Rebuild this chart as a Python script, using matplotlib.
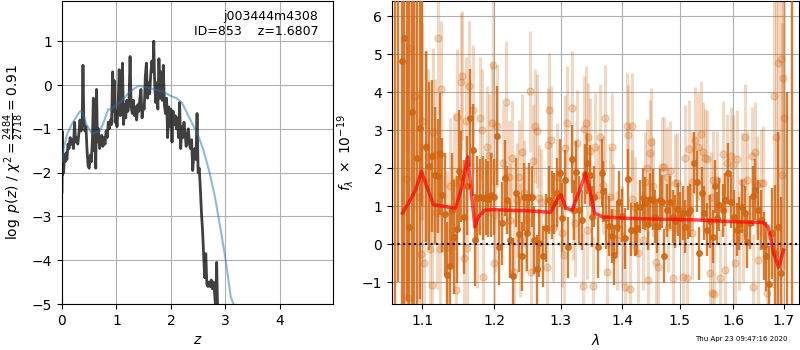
import numpy as np
import matplotlib
matplotlib.use("Agg")
import matplotlib.pyplot as plt
from matplotlib.ticker import NullLocator, FixedLocator, FixedFormatter

# ---- p(z) panel ----
z_grid = [0.000, 0.005, 0.012, 0.02, 0.03, 0.045, 0.06, 0.075, 0.09, 0.11, 0.13, 0.15, 0.17, 0.19,
          0.21, 0.23, 0.25, 0.27, 0.29, 0.31, 0.33, 0.35, 0.37, 0.385, 0.40, 0.42, 0.44, 0.46, 0.48,
          0.50, 0.52, 0.54, 0.56, 0.575, 0.59, 0.605, 0.62, 0.635, 0.65, 0.67, 0.69, 0.71, 0.73,
          0.75, 0.77, 0.79, 0.81, 0.83, 0.85, 0.87, 0.89, 0.91, 0.93, 0.945, 0.96, 0.975, 0.99,
          1.01, 1.03, 1.05, 1.07, 1.09, 1.11, 1.13, 1.15, 1.17, 1.19, 1.21, 1.23, 1.25, 1.27, 1.29,
          1.31, 1.33, 1.35, 1.37, 1.39, 1.41, 1.43, 1.45, 1.47, 1.49, 1.51, 1.53, 1.55, 1.57, 1.59,
          1.61, 1.63, 1.65, 1.67, 1.685, 1.70, 1.72, 1.74, 1.76, 1.78, 1.80, 1.82, 1.84, 1.86, 1.88,
          1.90, 1.92, 1.94, 1.96, 1.98, 2.00, 2.02, 2.04, 2.06, 2.08, 2.10, 2.12, 2.14, 2.16, 2.18,
          2.20, 2.22, 2.24, 2.26, 2.28, 2.30, 2.32, 2.34, 2.36, 2.38, 2.40, 2.42, 2.44, 2.46, 2.48,
          2.50, 2.52, 2.54, 2.56, 2.58, 2.60, 2.62, 2.64, 2.66, 2.68, 2.70, 2.72, 2.74, 2.76, 2.78,
          2.80, 2.82, 2.84, 2.86]
logpz = [-2.45, -1.05, -2.05, -1.75, -2.0, -1.6, -1.75, -1.55, -1.7, -1.35, -1.45, -1.2, -1.35, -1.25,
         -1.45, -0.85, -1.3, -1.2, -1.35, -1.1, -0.8, -1.05, -0.9, 0.45, -0.75, -1.05, -0.95, -1.5, -1.85,
         -1.9, -1.6, -1.75, -1.2, -0.3, -1.5, -1.0, -1.9, -0.1, -1.3, -1.0, -1.45, -1.3, -1.15,
         -1.4, -1.2, -1.35, -1.05, -1.2, -0.85, -1.0, -0.8, -0.9, 0.3, -0.6, 0.1, -0.85, -0.6,
         -0.95, -0.5, 0.35, -0.7, -0.55, 0.5, -0.9, -0.45, -0.75, -0.35, -0.6, -0.4, 0.65, -0.5, -0.65,
         -0.35, -0.7, -0.5, -0.8, -0.45, -0.6, -0.3, -0.1, -0.75, -0.5, -0.55, 0.2, 0.5, -0.3, 0.05,
         -0.2, 0.25, 0.55, 0.3, 1.0, 0.1, -0.4, 0.05, -0.55, 0.6, -0.3, 0.3, -0.35, 0.45, -0.45,
         -0.65, -0.3, -1.2, -0.5, -0.95, -0.55, -1.3, -0.6, -0.9, -0.7, -1.0, -0.75, -1.2, -0.4, -1.45,
         -0.95, -1.2, -0.85, -1.1, -1.4, -1.2, -1.0, -1.35, -1.45, -1.25, -1.95, -1.6, -1.45, -1.7, -0.65,
         -2.0, -1.9, -2.35, -2.9, -3.3, -3.85, -4.4, -3.85, -4.55, -4.6, -4.5, -4.6, -4.45, -4.65, -4.5,
         -4.7, -5.1, -4.05, -5.3]

z_prior = [0.0, 0.04, 0.1, 0.2, 0.33, 0.37, 0.45, 0.55, 0.62, 0.70, 0.78, 0.85, 0.90, 0.95, 1.1,
           1.25, 1.40, 1.55, 1.70, 1.85, 2.0, 2.1, 2.2, 2.3, 2.4, 2.5, 2.6, 2.7, 2.8, 2.9, 3.0,
           3.05, 3.1, 3.15]
logp_prior = [-1.75, -1.4, -1.1, -0.85, -0.6, -0.6, -0.9, -1.12, -1.08, -1.05, -0.8, -0.55, -0.56,
              -0.5, -0.35, -0.15, -0.02, -0.05, -0.1, -0.15, -0.25, -0.3, -0.4, -0.65, -0.9, -1.15,
              -1.5, -1.95, -2.5, -3.2, -3.95, -4.4, -4.85, -5.0]

# ---- spectrum panel ----
wave_a = [1.0644, 1.0683, 1.0730, 1.0763, 1.0798, 1.0828, 1.0867, 1.0896, 1.0933, 1.0969, 1.1002,
          1.1045, 1.1085, 1.1133, 1.1170, 1.1206, 1.1237, 1.1268, 1.1302, 1.1336, 1.1373, 1.1401,
          1.1428, 1.1465, 1.1501, 1.1525, 1.1571, 1.1609, 1.1651, 1.1689, 1.1722, 1.1754, 1.1792,
          1.1839, 1.1878, 1.1911, 1.1949, 1.1993, 1.2040, 1.2069, 1.2113, 1.2153, 1.2186, 1.2226,
          1.2275, 1.2315, 1.2364, 1.2400, 1.2434, 1.2475, 1.2514, 1.2554, 1.2589, 1.2626, 1.2665,
          1.2727, 1.2768, 1.2819, 1.2856, 1.2892, 1.2934, 1.2985, 1.3025, 1.3064, 1.3116, 1.3170,
          1.3207, 1.3238, 1.3291, 1.3329, 1.3383, 1.3420, 1.3463, 1.3491, 1.3533, 1.3598, 1.3654,
          1.3681, 1.3726, 1.3780, 1.3820, 1.3864, 1.3904, 1.3947, 1.3988, 1.4044, 1.4099, 1.4145,
          1.4213, 1.4253, 1.4299, 1.4346, 1.4386, 1.4433, 1.4473, 1.4520, 1.4561, 1.4601, 1.4648,
          1.4693, 1.4725, 1.4767, 1.4826, 1.4874, 1.4916, 1.4964, 1.5005, 1.5054, 1.5096, 1.5145,
          1.5187, 1.5261, 1.5310, 1.5358, 1.5403, 1.5446, 1.5496, 1.5558, 1.5609, 1.5652, 1.5699,
          1.5737, 1.5798, 1.5842, 1.5905, 1.5950, 1.6014, 1.6066, 1.6116, 1.6163, 1.6228, 1.6273,
          1.6326, 1.6379, 1.6425, 1.6490, 1.6538, 1.6604, 1.6644, 1.6710, 1.6758, 1.6825, 1.6892,
          1.6948, 1.7065, 1.7168]
flux_a = [-3.0, 9.0, 4.82, 5.42, 8.5, 0.45, 3.47, -2.5, 2.26, 3.05, 7.0,
          2.57, 2.06, 2.32, 1.82, 1.8, 2.38, 1.3, 0.8, -0.82, -0.56, 0.9,
          0.2, 0.39, 1.94, 1.78, 0.72, 1.54, 3.32, 2.48, 0.11, 1.21, 1.25,
          1.21, 1.25, 1.18, 1.3, 1.25, 2.85, -0.06, 0.55, 1.74, 1.17, 0.11,
          -0.83, 1.36, 0.26, -0.32, 1.25, 0.31, 1.25, 1.25, 0.11, -0.66, 0.03,
          -0.32, 0.43, 1.17, 1.04, 1.08, 1.36, 1.87, 0.7, 1.69, -0.08, 2.24,
          0.9, 1.91, 0.89, 0.64, 1.85, 2.13, 1.82, 0.73, 1.25, -0.08, 1.87,
          1.39, 0.68, 0.48, 0.22, -0.28, 0.45, 1.12, 0.75, 0.16, 1.71, 0.38,
          0.38, 0.42, 0.99, 1.21, 1.08, 0.54, 1.18, 1.17, 0.73, 0.48, 1.17,
          1.12, -0.31, 0.89, 1.10, 0.73, 0.6, 0.92, 0.68, 0.82, 0.46, 0.83,
          0.89, 2.15, 1.65, -0.24, 1.34, 0.82, 0.38, 0.6, 0.2, 1.52, 0.68,
          1.04, 0.89, 1.17, 1.87, 1.12, 0.73, 0.38, 0.54, 0.99, 0.82, 0.07,
          0.57, 1.27, 1.43, 0.9, 0.64, -0.04, -0.32, -1.04, 0.29, -0.24, 0.46,
          -0.76, -4.0, -8.0]
err_a = [10, 10, 8, 8, 10, 7, 6, 9, 5, 4.5, 6,
         2.5, 2.2, 2.0, 1.8, 1.5, 1.6, 1.5, 1.6, 1.4, 1.5, 1.5,
         1.5, 1.4, 1.6, 1.2, 1.5, 1.3, 1.3, 1.2, 1.2, 1.1, 1.0,
         1.1, 1.0, 1.0, 1.1, 1.0, 1.3, 1.0, 1.1, 1.0, 0.9, 1.0,
         1.0, 0.9, 1.0, 0.9, 0.9, 1.0, 0.9, 0.8, 0.9, 0.9, 0.9,
         0.8, 0.9, 0.9, 0.9, 0.8, 0.9, 0.9, 0.9, 0.8, 0.8, 0.9,
         0.8, 0.8, 0.9, 0.8, 0.8, 0.8, 0.8, 0.8, 0.8, 0.8, 0.9,
         0.8, 0.8, 0.8, 0.7, 0.8, 0.7, 0.8, 0.7, 0.8, 0.8, 0.7,
         0.7, 0.7, 0.7, 0.8, 0.7, 0.7, 0.7, 0.8, 0.7, 0.7, 0.8,
         0.7, 0.7, 0.7, 0.7, 0.7, 0.7, 0.7, 0.7, 0.7, 0.7, 0.7,
         0.7, 0.8, 0.8, 0.7, 0.7, 0.7, 0.7, 0.7, 0.7, 0.7, 0.7,
         0.7, 0.7, 0.7, 0.8, 0.7, 0.7, 0.7, 0.7, 0.7, 0.7, 0.7,
         0.7, 0.8, 0.8, 0.8, 0.8, 0.9, 0.9, 1.0, 1.2, 1.8, 2.5,
         2.0, 8.0, 16]

wave_b = [1.0785, 1.0815, 1.0837, 1.0903, 1.0960, 1.0982, 1.1002, 1.1026, 1.1049, 1.1075, 1.1102,
          1.1125, 1.1145, 1.1170, 1.1192, 1.1214, 1.1237, 1.1257, 1.1328, 1.1373, 1.1428, 1.1453,
          1.1474, 1.1521, 1.1546, 1.1574, 1.1592, 1.1613, 1.1641, 1.1698, 1.1746, 1.1792, 1.1821,
          1.1842, 1.1888, 1.1925, 1.1959, 1.1985, 1.1997, 1.2014, 1.2043, 1.2127, 1.2167, 1.2216,
          1.2233, 1.2260, 1.2285, 1.2325, 1.2364, 1.2382, 1.2412, 1.2434, 1.2464, 1.2524, 1.2539,
          1.2570, 1.2600, 1.2638, 1.2665, 1.2699, 1.2779, 1.2799, 1.2822, 1.2846, 1.2877, 1.2934,
          1.3012, 1.3048, 1.3072, 1.3100, 1.3170, 1.3191, 1.3215, 1.3259, 1.3345, 1.3366, 1.3399,
          1.3415, 1.3439, 1.3463, 1.3507, 1.3544, 1.3598, 1.3626, 1.3681, 1.3709, 1.3747, 1.3792,
          1.3820, 1.3847, 1.3904, 1.3988, 1.4044, 1.4082, 1.4103, 1.4128, 1.4157, 1.4171, 1.4213,
          1.4270, 1.4346, 1.4386, 1.4416, 1.4444, 1.4473, 1.4499, 1.4531, 1.4578, 1.4618, 1.4678,
          1.4719, 1.4767, 1.4795, 1.4826, 1.4874, 1.4916, 1.4960, 1.5065, 1.5096, 1.5132, 1.5174,
          1.5218, 1.5233, 1.5279, 1.5340, 1.5384, 1.5421, 1.5465, 1.5511, 1.5558, 1.5577, 1.5596,
          1.5620, 1.5643, 1.5684, 1.5746, 1.5798, 1.5842, 1.5874, 1.5950, 1.6001, 1.6034, 1.6078,
          1.6116, 1.6163, 1.6194, 1.6228, 1.6273, 1.6360, 1.6391, 1.6425, 1.6458, 1.6490, 1.6538,
          1.6590, 1.6670, 1.6812, 1.6846, 1.6893, 1.6941, 1.6968, 1.6989, 1.7009]
flux_b = [1.71, -1.42, 5.16, 3.89, 1.25, -0.25, 3.23, -0.5, 2.57, 2.3, -0.13,
          -1.07, 2.96, 2.35, 0.82, 5.42, -0.13, 4.08, -0.06, 1.52, 1.65, -1.2,
          3.34, 4.28, 4.43, -0.37, 3.23, -0.1, 4.17, 3.54, 0.46, 3.32, 3.0,
          -0.85, 2.57, 2.35, 3.18, 4.72, -0.5, 0.77, 3.11, 2.15, 3.75, 1.78,
          0.64, 2.27, -0.72, 1.17, 1.78, 0.11, 2.44, 1.34, 0.66, 4.02, -0.72,
          2.2, 3.11, 2.99, 1.21, 1.1, -0.59, 2.61, 3.54, 2.75, 0.42, 1.78,
          0.29, -0.28, 2.53, 3.2, 3.58, 0.9, 0.55, 2.66, -1.1, 3.03, 3.18,
          0.38, 2.83, 2.46, -1.1, 2.57, 1.3, 2.82, 1.56, 3.32, -0.72, 1.25,
          2.57, 0.82, 0.1, 0.22, -1.11, 3.11, 2.88, -1.18, 3.1, 1.18, 0.99,
          -0.24, 0.11, 1.65, 2.0, -0.94, 2.39, 2.7, 1.52, -0.46, -0.59, 2.04,
          2.04, 1.78, 0.46, 1.94, -0.89, 1.6, 1.62, -0.87, 2.26, -0.89, 2.5,
          1.65, 0.29, 2.73, 2.57, 2.9, 2.44, 2.26, 2.24, -0.76, 1.24, -1.29,
          1.69, -1.31, 1.69, -0.89, 2.38, -0.68, 2.13, 2.32, 2.09, -0.5, 2.24,
          0.11, 1.65, 0.29, 2.82, 1.69, 2.32, -1.13, 2.44, 1.56, -0.41, 1.62,
          1.62, -1.29, 3.89, 2.83, 4.76, 4.87, 1.82, 4.37, 3.32]
err_b = [3.5, 3.0, 3.5, 3.0, 2.8, 2.8, 2.6, 2.5, 2.5, 2.3, 2.2,
         2.0, 2.2, 2.0, 2.0, 2.0, 2.0, 1.8, 2.0, 1.8, 1.8, 1.6,
         1.8, 1.8, 1.7, 1.7, 1.7, 1.6, 1.7, 1.7, 1.6, 1.6, 1.6,
         1.5, 1.6, 1.6, 1.6, 1.7, 1.5, 1.5, 1.6, 1.5, 1.6, 1.5,
         1.5, 1.5, 1.4, 1.5, 1.5, 1.5, 1.5, 1.4, 1.4, 1.6, 1.4,
         1.5, 1.5, 1.5, 1.4, 1.4, 1.4, 1.5, 1.5, 1.4, 1.4, 1.4,
         1.4, 1.4, 1.4, 1.5, 1.5, 1.3, 1.4, 1.4, 1.4, 1.4, 1.5,
         1.3, 1.4, 1.4, 1.3, 1.4, 1.3, 1.4, 1.3, 1.4, 1.3, 1.3,
         1.4, 1.3, 1.3, 1.3, 1.3, 1.4, 1.3, 1.3, 1.4, 1.3, 1.3,
         1.3, 1.3, 1.3, 1.3, 1.3, 1.4, 1.4, 1.3, 1.3, 1.3, 1.3,
         1.3, 1.3, 1.2, 1.3, 1.3, 1.3, 1.3, 1.3, 1.4, 1.3, 1.3,
         1.3, 1.2, 1.4, 1.4, 1.4, 1.3, 1.3, 1.3, 1.3, 1.2, 1.3,
         1.3, 1.3, 1.3, 1.3, 1.4, 1.3, 1.3, 1.3, 1.3, 1.3, 1.3,
         1.3, 1.3, 1.3, 1.4, 1.3, 1.3, 1.4, 1.3, 1.3, 1.4, 1.4,
         1.5, 1.6, 5.0, 5.0, 5.0, 5.0, 4.0, 5.0, 4.0]

wave_model = [1.074, 1.082, 1.091, 1.099, 1.106, 1.115, 1.129, 1.145, 1.154, 1.162, 1.168, 1.172,
              1.177, 1.186, 1.202, 1.227, 1.252, 1.284, 1.294, 1.300, 1.308, 1.318, 1.332, 1.339,
              1.345, 1.354, 1.367, 1.412, 1.471, 1.531, 1.592, 1.659, 1.669, 1.680, 1.690, 1.700]
flux_model = [0.82, 1.08, 1.43, 1.91, 1.52, 1.04, 1.0, 0.95, 1.52, 2.3, 1.18, 0.46,
              0.72, 0.9, 0.91, 0.89, 0.88, 0.84, 1.17, 1.3, 0.95, 0.9, 1.52, 1.87,
              1.5, 0.82, 0.72, 0.68, 0.66, 0.64, 0.6, 0.57, 0.45, -0.24, -0.6, -0.15]

wave_ticks = [1.1, 1.2, 1.3, 1.4, 1.5, 1.6, 1.7]

orange = '#d4650e'

fig = plt.figure(figsize=(8, 3.5), dpi=100)
ax1 = fig.add_axes([0.0775, 0.1314, 0.339, 0.866])
ax2 = fig.add_axes([0.49, 0.1314, 0.50875, 0.866])

# left: p(z)
ax1.plot(z_prior, logp_prior, color='#1f77b4', alpha=0.5, lw=1.5, zorder=3)
ax1.plot(z_grid, logpz, color='k', alpha=0.75, lw=2, zorder=2)
ax1.set_xlim(0, 4.98)
ax1.set_ylim(-5, 1.92)
ax1.set_xticks([0, 1, 2, 3, 4])
ax1.set_yticks([-5, -4, -3, -2, -1, 0, 1])
ax1.grid(True)
ax1.set_xlabel(r'$z$')
ax1.set_ylabel(r'$\log\ p(z)$' + ' / ' + r'$\chi^2=\frac{2484}{2718}=0.91$')
ax1.text(0.945, 0.97, 'j003444m4308\nID=853    z=1.6807', ha='right', va='top',
         transform=ax1.transAxes, fontsize=9)

# right: spectrum
ax2.errorbar(wave_b, flux_b, yerr=err_b, color=orange, alpha=0.25, marker='o', ms=5,
             linestyle='none', elinewidth=2.2, zorder=2)
ax2.errorbar(wave_a, flux_a, yerr=err_a, color=orange, alpha=0.85, marker='o', ms=4,
             linestyle='none', elinewidth=1.7, zorder=3)
ax2.plot(wave_model, flux_model, color='red', alpha=0.7, lw=2.5, zorder=4)
ax2.axhline(0, color='k', linestyle=':', lw=1.5, zorder=5)
ax2.set_xscale('log')
ax2.xaxis.set_major_locator(FixedLocator(wave_ticks))
ax2.xaxis.set_major_formatter(FixedFormatter([str(t) for t in wave_ticks]))
ax2.xaxis.set_minor_locator(NullLocator())
ax2.set_xlim(1.0606, 1.732)
ax2.set_ylim(-1.57, 6.4)
ax2.grid(True)
ax2.set_xlabel(r'$\lambda$')
ax2.set_ylabel(r'$f_\lambda\ \times\ 10^{-19}$')

fig.text(0.984, 0.022, 'Thu Apr 23 09:47:16 2020', ha='right', va='bottom', fontsize=5)

fig.savefig('out.png', dpi=100)
